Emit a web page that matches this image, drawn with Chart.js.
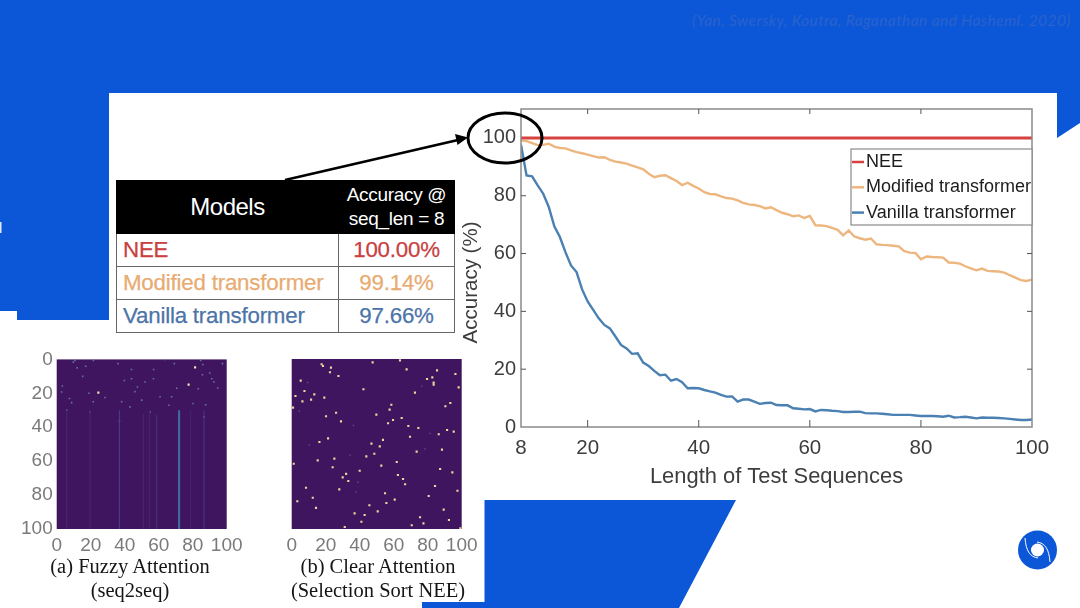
<!DOCTYPE html>
<html><head><meta charset="utf-8">
<script src="https://cdn.jsdelivr.net/npm/chart.js@4"></script>
<style>
html,body{margin:0;padding:0;background:#fff;overflow:hidden}
#stage{position:relative;width:1080px;height:608px;overflow:hidden;background:#fff;font-family:"Liberation Sans",Arial,sans-serif;filter:blur(.35px)}
svg.lay{position:absolute;left:0;top:0}
canvas{position:absolute;display:block}
#cite{position:absolute;left:692px;top:11px;font:italic 15.5px "Lato",sans-serif;color:#2b62cc;white-space:nowrap;letter-spacing:.42px}
table{position:absolute;left:116px;top:180px;width:338px;height:153px;border-collapse:collapse;table-layout:fixed}
td{border:1.5px solid #666;padding:0;text-align:center;white-space:nowrap}
.h td{background:#000;color:#fff;border-color:#000;height:52px}
.h td+td{border-left:1px solid #777;font-size:19px;line-height:24px;letter-spacing:-.3px}
.h td:first-child{font-size:24px;letter-spacing:-.5px}
.r td{font-size:22.3px;letter-spacing:-.2px;-webkit-text-stroke:.25px currentColor}
.r td:first-child{text-align:left;padding-left:6px}
.cap{position:absolute;font-family:"Liberation Serif",serif;font-size:20.5px;line-height:24px;color:#151515;text-align:center;white-space:nowrap}
</style></head><body>
<div id="stage">
<svg class="lay" width="1080" height="608">
<path fill="#0b57d8" d="M0 0H1080V123L1057 138V93H109V320H17V311H0Z"/>
<path fill="#0b57d8" d="M484.5 500H736L679 608H422V602H484.5Z"/>
<rect x="0" y="222" width="1.5" height="11" fill="#dfe8fa"/>
<g>
<circle cx="1037.5" cy="550" r="19.5" fill="#0b57d8"/>
<circle cx="1037.5" cy="550" r="6.5" fill="#fff"/>
<path d="M1025 538C1026 551 1030 557 1038 558" fill="none" stroke="#fff" stroke-width="1"/>
<path d="M1050 562C1049 549 1045 543 1037 542" fill="none" stroke="#fff" stroke-width="1"/>
</g>
</svg>
<div id="cite">(Yan, Swersky, Koutra, Raganathan and Hashemi. 2020)</div>
<canvas id="main" style="left:459px;top:92px;width:601px;height:398px"></canvas>
<table>
<colgroup><col style="width:222px"><col style="width:116px"></colgroup>
<tr class="h"><td>Models</td><td>Accuracy @<br>seq_len = 8</td></tr>
<tr class="r" style="color:#c9403f"><td>NEE</td><td>100.00%</td></tr>
<tr class="r" style="color:#e8ab72"><td>Modified transformer</td><td>99.14%</td></tr>
<tr class="r" style="color:#4c74a8"><td>Vanilla transformer</td><td>97.66%</td></tr>
</table>
<canvas id="fuzzy" style="left:10px;top:344px;width:240px;height:215px"></canvas>
<canvas id="clear" style="left:245px;top:349px;width:240px;height:210px"></canvas>
<div class="cap" style="left:0;top:554px;width:260px">(a) Fuzzy Attention<br>(seq2seq)</div>
<div class="cap" style="left:248px;top:554px;width:260px">(b) Clear Attention<br>(Selection Sort NEE)</div>
<svg class="lay" width="1080" height="608">
<ellipse cx="505" cy="138" rx="37" ry="25" fill="none" stroke="#000" stroke-width="3"/>
<line x1="285" y1="180" x2="458" y2="140" stroke="#000" stroke-width="2.6"/>
<path d="M468 137.5L455 134L457.5 145Z" fill="#000"/>
</svg>
</div>
<script>
const seqLengths=[8,9,10,11,12,13,14,15,16,17,18,19,20,21,22,23,24,25,26,27,28,29,30,31,32,33,34,35,36,37,38,39,40,41,42,43,44,45,46,47,48,49,50,51,52,53,54,55,56,57,58,59,60,61,62,63,64,65,66,67,68,69,70,71,72,73,74,75,76,77,78,79,80,81,82,83,84,85,86,87,88,89,90,91,92,93,94,95,96,97,98,99,100];
const neeLengths=[8,100];
const neeAccuracy=[100,100];
const modifiedAccuracy=[99.14,98.9,98.2,97.5,97.6,98,97,96.5,96.4,95.7,95.1,94.7,94.2,93.7,93.2,93.3,92.4,91.8,91.5,91.1,90.4,89.8,89.1,87.6,86.4,86.9,87.1,86.1,85.1,83.7,84.5,83.4,82.5,81.2,80.6,80.5,79.8,79.2,79,78.4,77.5,77,76.8,76.4,75.6,76,75,74.1,73.6,72.9,73.2,72.3,73,69.8,69.7,69.5,68.9,68.2,66.3,68,65.9,65.3,64.8,65.2,63.2,63,62.9,62.7,62.5,60.8,60.3,60.2,58,59,58.8,58.7,58.6,56.9,56.8,56.5,55.6,54.9,54.2,54.8,54,53.9,53.8,53.4,52.5,51.7,50.8,50.5,51];
const vanillaAccuracy=[97.66,87,86.7,83.6,80.7,76.1,69.4,65.7,60.5,55.9,53.6,47.6,43.4,40.5,37.6,35.3,34.1,31.3,28.4,27.2,25.3,25.5,22.3,21.1,19.4,17.9,18.1,16,16.6,15.5,13.4,13.5,13.4,12.8,12.3,11.9,11.1,10.5,10.6,8.8,9.5,9.5,8.8,8,8.3,8.4,7.6,7.5,7.5,6.5,6.3,6.1,6.2,5.4,5.9,5.8,5.6,5.5,5.2,5.2,5.3,5.3,4.8,4.7,4.7,4.6,4.4,4.2,4.2,4.2,4.2,4,3.8,3.8,3.8,3.7,3.55,3.9,3.3,3.4,3.55,3.3,3,3.3,3.2,3.2,3.1,3,2.8,2.6,2.4,2.4,2.6];
const xTicks=[8,20,40,60,80,100];
const yTicks=[0,20,40,60,80,100];
const heatTicks=[0,20,40,60,80,100];
const yAxisTitle='Accuracy (%)';
const fuzzyStripeCols=[5.9,19.6,36.9,51,54.5,58.8,72,78.8,86.7];
const fuzzyStripeStarts=[30,30,30,32,30,33,30,30,30];
const fuzzyStripeColors=["#472668","#472668","#4c3a80","#452468","#452468","#48327a","#3f6f9f","#452468","#48327a"];
const fuzzyPointX=[9.8,10.8,21.6,63.7,84.7,85.7,15.3,3.3,2.9,70.6,67.6,91.2,92.5,94.7,97.5,69.2,36,44,44,39.8,47.5,52,56.9,60.8,38.2,43.1,54.9,86.7,72,36.9,5.9,8.8,7.5,28.4,19.6,21.5,80.2,87.6,83.3,12,17,19,46,50,90,86,66,57];
const fuzzyPointY=[1.6,.6,.6,0,.6,9,10,15.7,19.2,17,22,11.4,13.3,16.9,2.5,2.5,2.5,5.9,11.4,12.4,16.3,13.3,11.4,22,25,28,31,33.9,35.9,36.5,30,25.5,23,22.5,31,25,26,26.7,17.3,5,4,20,19,24,8,3,27,6];
const fuzzyBrightX=[81.4,24.5,77.6];
const fuzzyBrightY=[4.7,19.6,14.9];
const clearPointX=[17.6,18.4,23.1,22.5,27.5,47.6,63.7,67.6,85.5,96.3,79.6,82.7,83.5,83.5,98.2,5.3,7.5,13.3,2.2,6.3,11.4,19.2,42.2,72.5,90.4,93.3,.8,20.2,26.1,29,49.8,58.6,57.6,59.6,56.7,64.7,68.6,74.5,91.4,95.3,86.5,69.6,21.4,16.3,46.9,53.7,51.8,48.6,43.9,73.5,88.4,15.3,25.1,24.1,1.2,61.8,52.7,87.3,94.5,40,32,30,33.3,62.5,65.5,66.7,84.3,8.4,28,54.9,97.5,80.6,12.4,3.3,55.7,60.6,14.3,45.7,89.4,37,42.9,50.6,75.5,92.5,41,77.5,70.6,31.2,99.2];
const clearPointY=[3.1,4.1,5.1,7.8,10,2,.8,6.1,6.7,8.8,11.8,10.8,13.9,15.1,16.7,12.7,18.8,20.8,21.8,24.9,23.9,22.7,17.8,19.8,27.8,25.9,28.6,33.7,31.6,36.7,32.7,26.9,29.8,35.9,37.8,34.7,39.4,40.6,41.8,42.7,44.3,45.7,46.7,48.8,49.8,47.6,51.4,55.7,57.3,54.5,53.3,59.6,58.6,63.7,61.6,60.6,62.7,64.7,66.7,65.7,67.6,69.6,71.8,68.2,70.6,73.7,74.7,75.7,76.7,79,77.5,80.6,81.6,83.7,84.7,82.7,87.6,86,88.6,90.8,91.8,89.6,93.1,94.7,95.7,96.7,97.8,98.8,99.6];
const clearFaintX=[9.4,76.5,4.5,36.3,81.4,10.4,34.3,78.4,39,37.8];
const clearFaintY=[13.9,15.9,30.6,39,43.7,50.6,56.5,52.9,72.5,78.2];
const RED="#d6423f",ORANGE="#edb67f",BLUE="#4a80b2";
const zip=(xs,ys)=>xs.map((x,i)=>({x,y:ys[i]}));
const TXT="#3d3d3d",LIB='"Liberation Sans",Arial,sans-serif';

const matlabBox={id:'matlabBox',afterDatasetsDraw(c){
 const {ctx,chartArea:a,scales:{x,y}}=c;ctx.save();
 ctx.strokeStyle="#8a8a8a";ctx.lineWidth=1.5;ctx.strokeRect(a.left,a.top,a.right-a.left,a.bottom-a.top);
 ctx.lineWidth=1;ctx.strokeStyle="#555";ctx.beginPath();
 xTicks.slice(1,-1).forEach(t=>{const p=x.getPixelForValue(t);ctx.moveTo(p,a.top);ctx.lineTo(p,a.top+5);ctx.moveTo(p,a.bottom);ctx.lineTo(p,a.bottom-7);});
 yTicks.slice(1,-1).forEach(t=>{const p=y.getPixelForValue(t);ctx.moveTo(a.right,p);ctx.lineTo(a.right-5,p);ctx.moveTo(a.left,p);ctx.lineTo(a.left+5,p);});
 ctx.stroke();
 // y-axis title, sits below the middle of the axis in the reference
 ctx.save();ctx.translate(a.left-49.5,y.getPixelForValue(50));ctx.rotate(-Math.PI/2);
 ctx.font='20.5px '+LIB;ctx.fillStyle=TXT;ctx.textAlign='center';ctx.textBaseline='middle';ctx.fillText(yAxisTitle,0,0);ctx.restore();
 // legend inside the plot
 const L=a.right-181,T=a.top+40,W=181,H=76;
 ctx.fillStyle="#fff";ctx.fillRect(L,T,W,H);ctx.strokeStyle="#8a8a8a";ctx.lineWidth=1.2;ctx.strokeRect(L,T,W,H);
 ctx.font='18px '+LIB;ctx.textBaseline='middle';ctx.textAlign='left';
 c.data.datasets.forEach((d,i)=>{const yy=T+13+i*25.3;
  ctx.strokeStyle=d.borderColor;ctx.lineWidth=2.5;ctx.beginPath();ctx.moveTo(L+1,yy);ctx.lineTo(L+13,yy);ctx.stroke();
  ctx.fillStyle="#1c1c1c";ctx.fillText(d.label,L+15,yy);});
 ctx.restore();}};

new Chart(document.getElementById('main'),{type:'line',
 data:{datasets:[
  {label:'NEE',data:zip(neeLengths,neeAccuracy),borderColor:RED,borderWidth:3},
  {label:'Modified transformer',data:zip(seqLengths,modifiedAccuracy),borderColor:ORANGE,borderWidth:2.4},
  {label:'Vanilla transformer',data:zip(seqLengths,vanillaAccuracy),borderColor:BLUE,borderWidth:2.4}]},
 options:{responsive:false,animation:false,devicePixelRatio:1,
  layout:{autoPadding:false,padding:{top:10,right:28}},
  elements:{point:{radius:0},line:{tension:0}},
  plugins:{legend:{display:false},tooltip:{enabled:false}},
  scales:{
   x:{type:'linear',min:8,max:100,grid:{display:false,drawTicks:false,tickLength:0},border:{display:false},
      afterBuildTicks:s=>{s.ticks=xTicks.map(v=>({value:v}));},
      afterFit:s=>{s.height=63;},
      ticks:{autoSkip:false,maxRotation:0,color:TXT,font:{size:20.5,family:LIB},padding:9},
      title:{display:true,text:'Length of Test Sequences',color:TXT,font:{size:21.9,family:LIB},padding:0}},
   y:{min:0,max:110,grid:{display:false,drawTicks:false,tickLength:0},border:{display:false},
      afterBuildTicks:s=>{s.ticks=yTicks.map(v=>({value:v}));},
      afterFit:s=>{s.width=62;},
      ticks:{color:TXT,font:{size:20,family:LIB},padding:5}}}},
 plugins:[matlabBox]});

const heatBg={id:'heatBg',beforeDatasetsDraw(c){const {ctx,chartArea:a}=c;ctx.save();ctx.fillStyle="#3f1560";ctx.fillRect(a.left,a.top,a.right-a.left,a.bottom-a.top);ctx.restore();}};
function heat(id,datasets,leftW,showY){
 new Chart(document.getElementById(id),{type:'scatter',data:{datasets},
  options:{responsive:false,animation:false,devicePixelRatio:1,
   layout:{autoPadding:false,padding:{top:10,right:240-leftW-170}},
   plugins:{legend:{display:false},tooltip:{enabled:false}},
   scales:{
    x:{type:'linear',min:0,max:100,grid:{display:false,drawTicks:false,tickLength:0},border:{display:false},
       afterBuildTicks:s=>{s.ticks=heatTicks.map(v=>({value:v}));},afterFit:s=>{s.height=30;},
       ticks:{autoSkip:false,maxRotation:0,color:'#7a7a7a',font:{size:19,family:LIB},padding:5}},
    y:{type:'linear',reverse:true,min:0,max:100,display:true,grid:{display:false,drawTicks:false,tickLength:0},border:{display:false},
       afterBuildTicks:s=>{s.ticks=heatTicks.map(v=>({value:v}));},afterFit:s=>{s.width=leftW;},
       ticks:{display:showY,color:'#7a7a7a',font:{size:19,family:LIB},padding:4}}}},
  plugins:[heatBg]});
}
const fuzzySets=fuzzyStripeCols.map((x,i)=>({data:[{x,y:fuzzyStripeStarts[i]},{x,y:100}],showLine:true,borderColor:fuzzyStripeColors[i],borderWidth:i===6?2:1.2,pointRadius:0}));
fuzzySets.push({data:zip(fuzzyPointX,fuzzyPointY),pointStyle:'rect',pointRadius:1.1,backgroundColor:'#66749f',borderWidth:0});
fuzzySets.push({data:zip(fuzzyBrightX,fuzzyBrightY),pointStyle:'rect',pointRadius:1.5,backgroundColor:'#f0e6b0',borderWidth:0});
heat('fuzzy',fuzzySets,46.7,true);
heat('clear',[
 {data:zip(clearFaintX,clearFaintY),pointStyle:'rect',pointRadius:.9,backgroundColor:'#5a5c96',borderWidth:0},
 {data:zip(clearPointX,clearPointY),pointStyle:'rect',pointRadius:1.5,backgroundColor:'#ecd89a',borderWidth:0}],46.7,false);
</script>
</body></html>
